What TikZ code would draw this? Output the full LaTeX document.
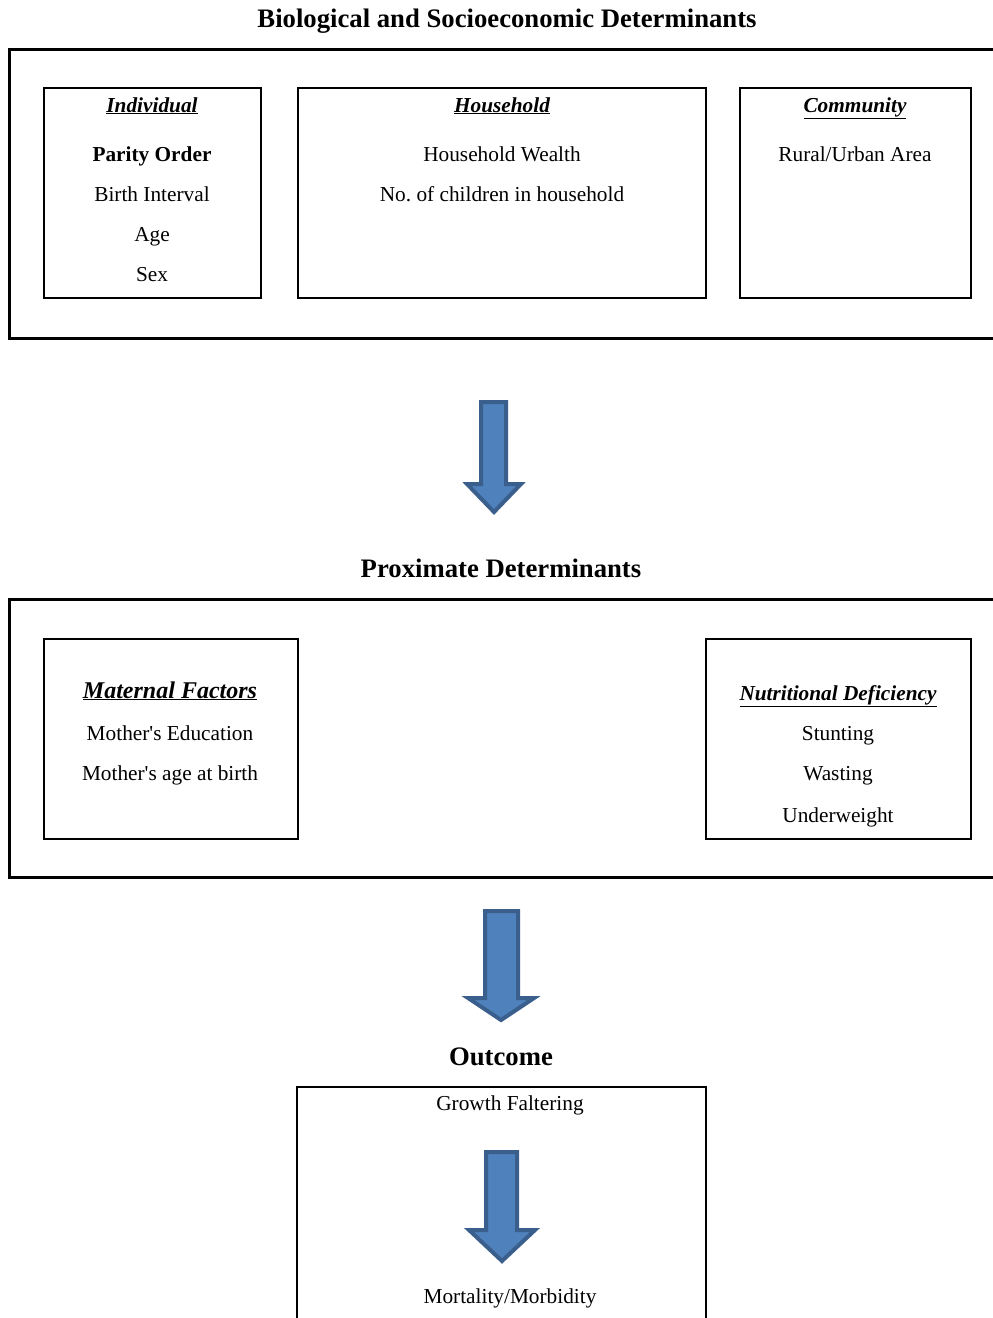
\documentclass[tikz,border=0pt]{standalone}
\usepackage{fontspec}
\setmainfont{Liberation Serif}[Ligatures=TeXOff]
\definecolor{arrowfill}{HTML}{4F81BD}
\definecolor{arrowline}{HTML}{3A5F8C}
\frenchspacing
\begin{document}
\begin{tikzpicture}[x=1pt,y=-1pt,
  body/.style={font=\fontsize{21.3}{25}\selectfont, inner sep=0pt, anchor=base},
  bodybold/.style={font=\fontsize{21.3}{25}\selectfont\bfseries, inner sep=0pt, anchor=base},
  head/.style={font=\fontsize{26.7}{30}\selectfont\bfseries, inner sep=0pt, anchor=base},
  sub/.style={font=\fontsize{21.3}{25}\selectfont\bfseries\itshape, inner sep=0pt, anchor=base},
  subbig/.style={font=\fontsize{24}{28}\selectfont\bfseries\itshape, inner sep=0pt, anchor=base},
  outerbox/.style={draw, line width=3pt},
  innerbox/.style={draw, line width=2pt, inner sep=0pt},
  barrow/.style={draw=arrowline, fill=arrowfill, line width=4pt, line join=miter}]
\useasboundingbox (0,0) rectangle (993,1318);

% ---- Section 1
\node[head] (t1) at (507,27) {Biological and Socioeconomic Determinants};
\draw[outerbox] (993,49) -- (9.5,49) -- (9.5,338) -- (993,338);

\node[innerbox, minimum width=217pt, minimum height=210pt] (indiv) at (152.5,193) {};
\node[innerbox, minimum width=408pt, minimum height=210pt] (house) at (502,193) {};
\node[innerbox, minimum width=231pt, minimum height=210pt] (comm) at (855.5,193) {};

\node[sub] (indivT) at (152,112) {\underline{Individual}};
\node[bodybold] (parity) at (152,161) {Parity Order};
\node[body] (birth) at (152,201) {Birth Interval};
\node[body] (age) at (152,241) {Age};
\node[body] (sex) at (152,281) {Sex};

\node[sub] (houseT) at (502,112) {\underline{Household}};
\node[body] (wealth) at (502,161) {Household Wealth};
\node[body] (nchild) at (502,201) {No. of children in household};

\node[sub] (commT) at (855,112) {\underline{Community}};
\node[body] (rural) at (855,161) {Rural/Urban Area};

% ---- Arrow 1
\draw[barrow] (481,402) -- (506,402) -- (506,484) -- (521,484) -- (494,512)
  -- (467,484) -- (481,484) -- cycle;

% ---- Section 2
\node[head] (t2) at (501,577) {Proximate Determinants};
\draw[outerbox] (993,599) -- (9.5,599) -- (9.5,877.5) -- (993,877.5);

\node[innerbox, minimum width=254pt, minimum height=200pt] (mat) at (171,739) {};
\node[innerbox, minimum width=265pt, minimum height=200pt] (nut) at (838.5,739) {};

\node[subbig] (matT) at (170,698) {\underline{Maternal Factors}};
\node[body] (medu) at (170,740) {Mother's Education};
\node[body] (mage) at (170,780) {Mother's age at birth};

\node[sub] (nutT) at (838,700) {\underline{Nutritional Deficiency}};
\node[body] (stunt) at (838,740) {Stunting};
\node[body] (waste) at (838,780) {Wasting};
\node[body] (under) at (838,822) {Underweight};

% ---- Arrow 2
\draw[barrow] (485,911) -- (518,911) -- (518,998) -- (534,998) -- (501,1020)
  -- (468,998) -- (485,998) -- cycle;

% ---- Section 3
\node[head] (t3) at (501,1065) {Outcome};
\draw[line width=2pt] (297,1318) -- (297,1087) -- (705.5,1087) -- (705.5,1318);
\node[body] (growth) at (510,1110) {Growth Faltering};

\draw[barrow] (486,1152) -- (517,1152) -- (517,1230) -- (535,1230) -- (502,1261)
  -- (469,1230) -- (486,1230) -- cycle;

\node[body] (mort) at (510,1303) {Mortality/Morbidity};
\end{tikzpicture}
\end{document}
